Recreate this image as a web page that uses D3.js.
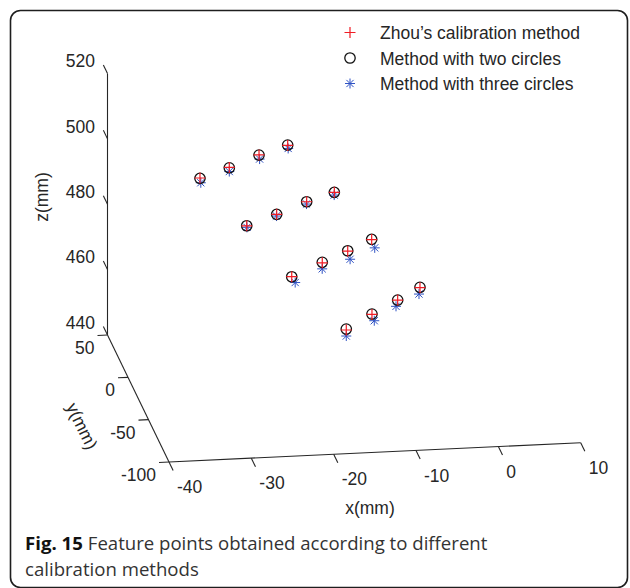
<!DOCTYPE html>
<html lang="en">
<head>
  <meta charset="utf-8">
  <title>Feature points</title>
  <script src="https://d3js.org/d3.v7.min.js"></script>
  <style>
    body { margin: 0; background: #fff; }
    svg text { font-family: "Liberation Sans", Arial, sans-serif; fill: #262626; }
    .caption text { font-family: "Open Sans", "Noto Sans", sans-serif; fill: #333; }
  </style>
</head>
<body>
<svg id="canvas" width="630" height="588"></svg>

<script>

// ************************************************************************************** //
// Data (x, y, z in mm)

var zhouPts = [
  [-30.76, 10, 497.3], [-27.20, 10, 500.1], [-23.59, 10, 503.5], [-20.11, 10, 506.0],
  [-26.08, -10, 487.3], [-22.44, -10, 490.4], [-18.80, -10, 493.8], [-15.44, -10, 496.3],
  [-21.61, -30, 476.4], [-17.90, -30, 480.2], [-14.81, -30, 483.4], [-11.90, -30, 486.6],
  [-15.98, -50, 464.6], [-12.86, -50, 469.0], [-9.74, -50, 473.0], [-7.03, -50, 476.5]
];
var twoCirclePts = [
  [-30.76, 10, 497.19], [-27.20, 10, 500.01], [-23.59, 10, 503.47], [-20.11, 10, 506.11],
  [-26.08, -10, 487.32], [-22.44, -10, 490.37], [-18.80, -10, 493.80], [-15.44, -10, 496.28],
  [-21.61, -30, 476.37], [-17.90, -30, 480.34], [-14.81, -30, 483.52], [-11.90, -30, 486.66],
  [-15.98, -50, 464.89], [-12.86, -50, 469.11], [-9.74, -50, 473.02], [-7.03, -50, 476.59]
];
var threeCirclePts = [
  [-30.66, 10, 495.83], [-27.20, 10, 498.85], [-23.52, 10, 502.24], [-20.05, 10, 505.07],
  [-26.05, -10, 486.83], [-22.47, -10, 489.86], [-18.82, -10, 493.10], [-15.46, -10, 495.45],
  [-21.19, -30, 474.55], [-17.91, -30, 478.35], [-14.52, -30, 480.89], [-11.53, -30, 484.02],
  [-15.98, -50, 462.75], [-12.58, -50, 467.03], [-9.94, -50, 471.12], [-7.15, -50, 474.55]
];

var xTicks = [-40, -30, -20, -10, 0, 10];
var yTicks = [-100, -50, 0, 50];
var zTicks = [440, 460, 480, 500, 520];
var legendNames = ["Zhou\u2019s calibration method", "Method with two circles", "Method with three circles"];

// ************************************************************************************** //
// Projection of the 3d box onto the page

var xScale = d3.scaleLinear().domain([-40, 10]).range([0, 1]);
var yScale = d3.scaleLinear().domain([50, -100]).range([0, 1]);
var zScale = d3.scaleLinear().domain([440, 520]).range([0, 1]);

var origin = [107.5, 335];            // x=-40, y=50, z=440
var xVec = [411.7, -19.3], yVec = [61.5, 127], zVec = [0, -261.5];

function project(p){
  var a = xScale(p[0]), b = yScale(p[1]), c = zScale(p[2]);
  return [ origin[0] + a*xVec[0] + b*yVec[0] + c*zVec[0],
           origin[1] + a*xVec[1] + b*yVec[1] + c*zVec[1] ];
}
function unit(v, len){ var n = Math.hypot(v[0], v[1]); return [v[0]/n*len, v[1]/n*len]; }

var svg = d3.select("#canvas");

// frame
svg.append("rect")
  .attr("x", 10.5).attr("y", 10.5).attr("width", 617).attr("height", 577)
  .attr("rx", 10).attr("fill", "none").attr("stroke", "#1e1e1e").attr("stroke-width", 1.6);

var axisG = svg.append("g").attr("stroke", "#262626").attr("stroke-width", 1.1).attr("fill", "none");

function line(g, p0, p1){
  g.append("line").attr("x1", p0[0]).attr("y1", p0[1]).attr("x2", p1[0]).attr("y2", p1[1]);
}

// axis lines
line(axisG, project([-40, -100, 440]), project([10, -100, 440]));
line(axisG, project([-40, 50, 440]), project([-40, -100, 440]));
line(axisG, project([-40, 50, 440]), project([-40, 50, 520]));

// x ticks, pointing towards -y
var xt = unit(yVec, 9.5);
xTicks.forEach(function(t){
  var p = project([t, -100, 440]);
  line(axisG, p, [p[0] + xt[0], p[1] + xt[1]]);
  svg.append("text").attr("x", p[0] + 8).attr("y", p[1] + 25).attr("dy", "0.35em")
    .attr("font-size", 17.5).text(t);
});

// y ticks, pointing towards -x
var yt = unit(xVec, -10);
yTicks.forEach(function(t){
  var p = project([-40, t, 440]);
  line(axisG, p, [p[0] + yt[0], p[1] + yt[1]]);
  svg.append("text").attr("x", p[0] - 13).attr("y", p[1] + 13).attr("dy", "0.35em")
    .attr("text-anchor", "end").attr("font-size", 17.5).text(t);
});

// z ticks, pointing towards +y
var zt = unit(yVec, -9.5);
zTicks.forEach(function(t){
  var p = project([-40, 50, t]);
  line(axisG, p, [p[0] + zt[0], p[1] + zt[1]]);
  svg.append("text").attr("x", p[0] - 12.5).attr("y", p[1] - 12.3).attr("dy", "0.35em")
    .attr("text-anchor", "end").attr("font-size", 17.5).text(t);
});

// axis titles
svg.append("text").attr("transform", "translate(370,508)").attr("dy", "0.35em")
  .attr("text-anchor", "middle").attr("font-size", 17.5).text("x(mm)");
svg.append("text").attr("transform", "translate(82,426) rotate(64)").attr("dy", "0.35em")
  .attr("text-anchor", "middle").attr("font-size", 17.5).text("y(mm)");
svg.append("text").attr("transform", "translate(42,197) rotate(-90)").attr("dy", "0.35em")
  .attr("text-anchor", "middle").attr("font-size", 17.5).text("z(mm)");

// ************************************************************************************** //
// Markers

var red = "#f01c24", blue = "#2f52c4";

function drawStar(g){
  g.append("path").attr("d", "M-5,0H5M0,-5V5M-3.6,-3.6L3.6,3.6M-3.6,3.6L3.6,-3.6")
    .attr("stroke", blue).attr("stroke-width", 1).attr("fill", "none");
}
function drawCircle(g){
  g.append("circle").attr("r", 5.2).attr("fill", "none").attr("stroke", "#111").attr("stroke-width", 1.3);
}
function drawPlus(g){
  g.append("path").attr("d", "M-5.5,0H5.5M0,-5.5V5.5")
    .attr("stroke", red).attr("stroke-width", 1.2).attr("fill", "none");
}

function series(data, draw){
  svg.append("g").selectAll("g").data(data).enter().append("g")
    .attr("transform", function(d){ return "translate(" + project(d) + ")"; })
    .each(function(){ draw(d3.select(this)); });
}

series(threeCirclePts, drawStar);
series(twoCirclePts, drawCircle);
series(zhouPts, drawPlus);

// legend
var drawers = [drawPlus, drawCircle, drawStar];
legendNames.forEach(function(name, i){
  var y = 32.5 + i*25.5;
  drawers[i](svg.append("g").attr("transform", "translate(350," + y + ")"));
  svg.append("text").attr("x", 380).attr("y", y + 6.5).attr("font-size", 17.5).text(name);
});

// caption
var cap = svg.append("g").attr("class", "caption");
var figLabel = cap.append("text").attr("x", 25).attr("y", 549.5).attr("font-size", 18.6)
  .attr("font-weight", "bold").style("fill", "#111").text("Fig. 15");
var figW = figLabel.node().getComputedTextLength();
cap.append("text").attr("x", 25 + figW + 5).attr("y", 549.5).attr("font-size", 18.6)
  .text("Feature points obtained according to different");
cap.append("text").attr("x", 25).attr("y", 576).attr("font-size", 18.6).text("calibration methods");

</script>
</body>
</html>
